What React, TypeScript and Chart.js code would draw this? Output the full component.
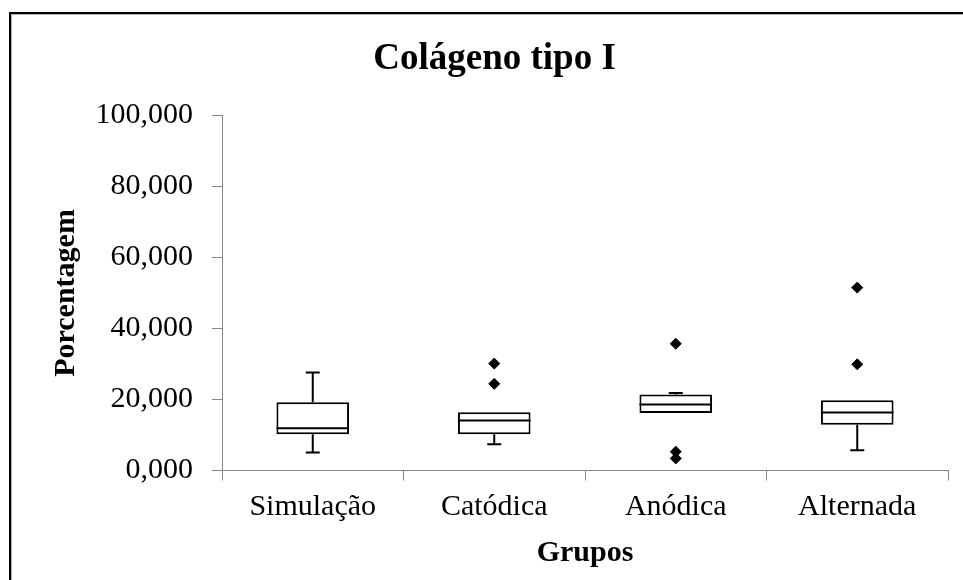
import React, { useEffect, useRef } from "react";
import { Chart, registerables } from "chart.js";

Chart.register(...registerables);

const categories = ["Simulação", "Catódica", "Anódica", "Alternada"];
const whiskerMin = [5.1, 7.4, 16.2, 5.7];
const q1 = [10.2, 10.2, 16.2, 12.9];
const median = [11.9, 14.1, 18.6, 16.3];
const q3 = [19.2, 16.4, 21.4, 19.8];
const whiskerMax = [27.6, 16.4, 21.8, 19.8];
const outliers: number[][] = [[], [30.1, 24.4], [35.7, 5.3, 3.4], [51.5, 29.9]];
const yTicks = [0, 20, 40, 60, 80, 100];

const FONT = "'Liberation Serif', 'Times New Roman', serif";

const boxPlugin = {
  id: "boxWhiskers",
  beforeDatasetsDraw(chart: any) {
    const { ctx, scales } = chart;
    const x = scales.x, y = scales.y;
    ctx.save();
    ctx.strokeStyle = "#000";
    ctx.lineWidth = 2;
    categories.forEach((_, i) => {
      const px = x.getPixelForValue(i);
      ctx.beginPath();
      ctx.moveTo(px, y.getPixelForValue(whiskerMin[i]));
      ctx.lineTo(px, y.getPixelForValue(q1[i]));
      ctx.moveTo(px, y.getPixelForValue(q3[i]));
      ctx.lineTo(px, y.getPixelForValue(whiskerMax[i]));
      ctx.stroke();
    });
    ctx.restore();
  },
  afterDatasetsDraw(chart: any) {
    const { ctx, scales } = chart;
    const x = scales.x, y = scales.y;
    const meta = chart.getDatasetMeta(0);
    ctx.save();
    ctx.strokeStyle = "#000";
    ctx.lineWidth = 2;
    categories.forEach((_, i) => {
      const px = x.getPixelForValue(i);
      const bar = meta.data[i];
      const half = bar ? bar.width / 2 : 36;
      const cap = 7;
      ctx.beginPath();
      const ym = y.getPixelForValue(median[i]);
      ctx.moveTo(px - half, ym);
      ctx.lineTo(px + half, ym);
      if (whiskerMin[i] < q1[i]) {
        const ylo = y.getPixelForValue(whiskerMin[i]);
        ctx.moveTo(px - cap, ylo);
        ctx.lineTo(px + cap, ylo);
      }
      if (whiskerMax[i] > q3[i]) {
        const yhi = y.getPixelForValue(whiskerMax[i]);
        ctx.moveTo(px - cap, yhi);
        ctx.lineTo(px + cap, yhi);
      }
      ctx.stroke();
    });
    ctx.restore();
  },
};

export default function App() {
  const ref = useRef<HTMLCanvasElement>(null);
  useEffect(() => {
    if (!ref.current) return;
    const outlierPoints: { x: string; y: number }[] = [];
    outliers.forEach((vals, i) => vals.forEach((v) => outlierPoints.push({ x: categories[i], y: v })));
    const chart = new Chart(ref.current, {
      type: "bar",
      data: {
        labels: categories,
        datasets: [
          {
            type: "bar",
            data: categories.map((_, i) => [q1[i], q3[i]]) as any,
            backgroundColor: "#ffffff",
            borderColor: "#000000",
            borderWidth: 2,
            borderSkipped: false,
            categoryPercentage: 1,
            barPercentage: 0.4,
          },
          {
            type: "line",
            data: outlierPoints as any,
            showLine: false,
            pointStyle: "rectRot",
            pointRadius: 5.5,
            pointBackgroundColor: "#000",
            pointBorderColor: "#000",
            pointBorderWidth: 1,
          } as any,
        ],
      },
      options: {
        animation: false,
        responsive: false,
        devicePixelRatio: 1,
        layout: { padding: { left: 41, right: 15, top: 0, bottom: 0 } },
        plugins: {
          legend: { display: false },
          tooltip: { enabled: false },
          title: {
            display: true,
            text: "Colágeno tipo I",
            color: "#000",
            font: { family: FONT, size: 37, weight: "bold" },
            padding: { top: 37, bottom: 34 },
          },
        },
        scales: {
          x: {
            type: "category",
            offset: true,
            border: { display: true, color: "#868686", width: 1 },
            grid: { offset: true, drawOnChartArea: false, drawTicks: true, tickLength: 10, color: "#868686" },
            ticks: { color: "#000", font: { family: FONT, size: 30 }, padding: 9 },
            title: {
              display: true,
              text: "Grupos",
              color: "#000",
              font: { family: FONT, size: 30, weight: "bold" },
              padding: { top: 0, bottom: 9 },
            },
            afterFit(scale: any) {
              scale.height = 109.5;
            },
          },
          y: {
            type: "linear",
            min: 0,
            max: 100,
            afterBuildTicks(scale: any) {
              scale.ticks = yTicks.map((v) => ({ value: v }));
            },
            border: { display: true, color: "#868686", width: 1 },
            grid: { drawOnChartArea: false, drawTicks: true, tickLength: 10, color: "#868686" },
            ticks: {
              color: "#000",
              font: { family: FONT, size: 30 },
              padding: 19,
              callback: (v: any) => Number(v).toFixed(3).replace(".", ","),
            },
            title: {
              display: true,
              text: "Porcentagem",
              color: "#000",
              font: { family: FONT, size: 30, weight: "bold" },
              padding: { top: 7, bottom: 0 },
            },
            afterFit(scale: any) {
              scale.width = 181;
            },
          },
        },
      },
      plugins: [boxPlugin],
    });
    return () => chart.destroy();
  }, []);

  return (
    <div style={{ position: "absolute", left: 0, top: 0, width: 963, height: 580, overflow: "hidden", background: "#fff" }}>
      <div
        style={{
          position: "absolute",
          left: 9,
          top: 12,
          width: 1200,
          height: 1200,
          borderTop: "2px solid #000",
          borderLeft: "2px solid #000",
          boxShadow: "inset 1px 1px 0 #b0b0b0",
        }}
      />
      <canvas ref={ref} width={963} height={580} style={{ position: "absolute", left: 0, top: 0, width: 963, height: 580 }} />
    </div>
  );
}
